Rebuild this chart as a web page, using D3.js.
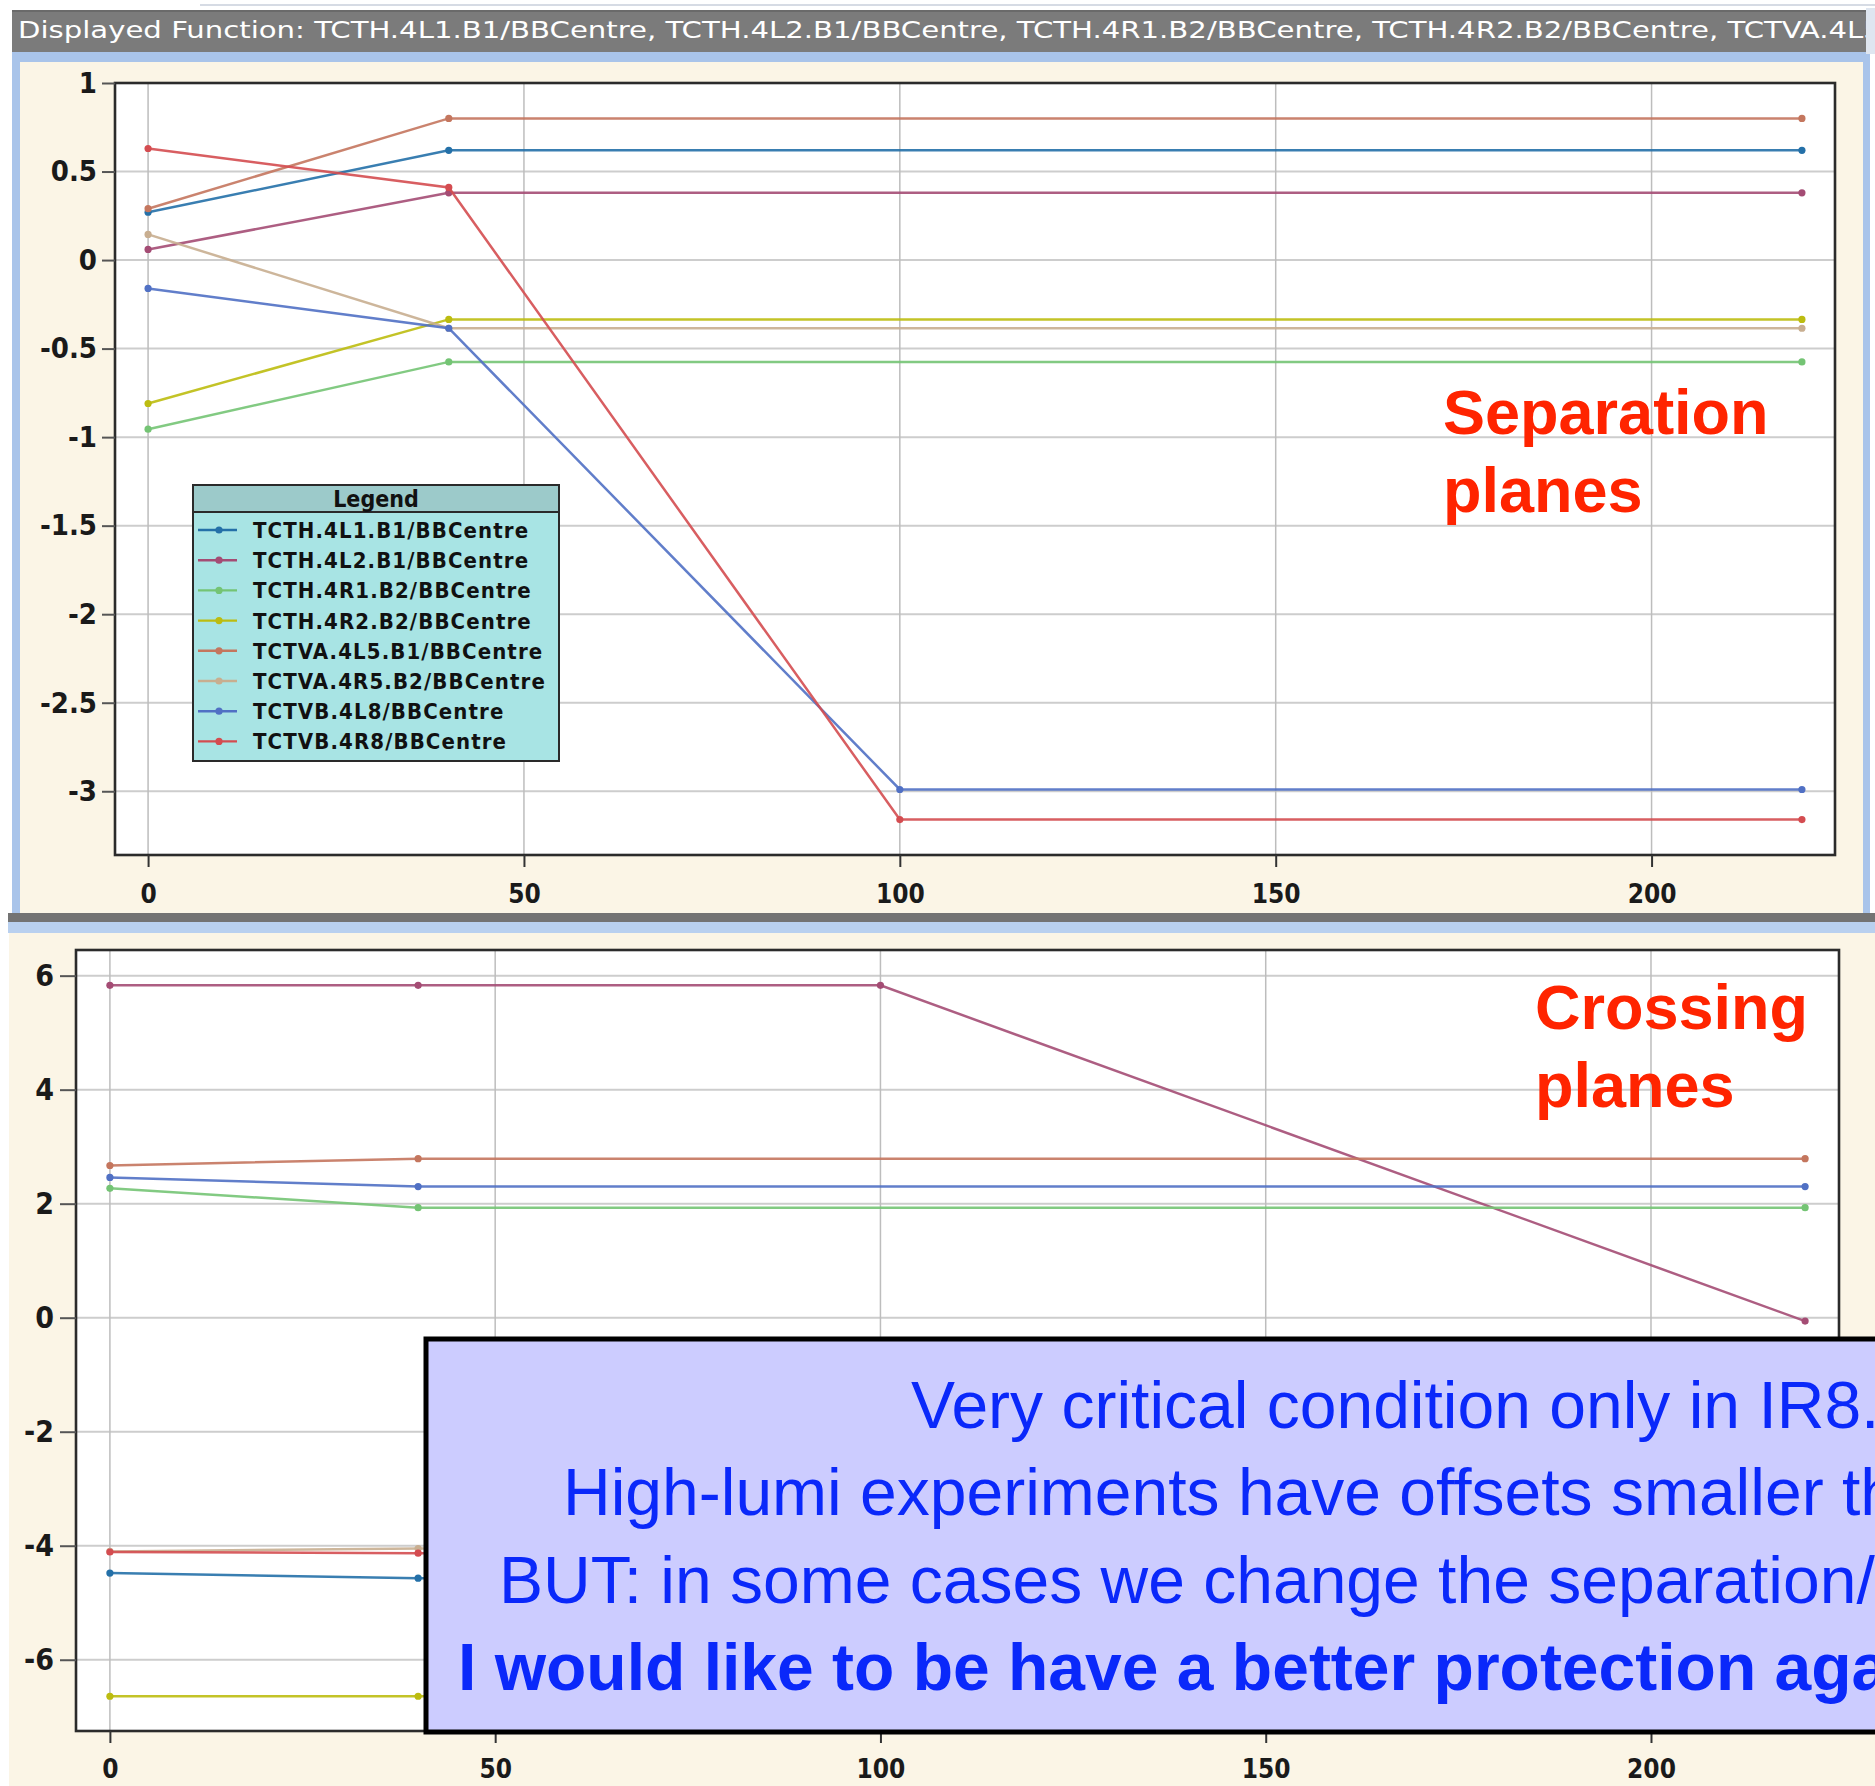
<!DOCTYPE html>
<html>
<head>
<meta charset="utf-8">
<script src="https://cdn.jsdelivr.net/npm/d3@7"></script>
<style>
  html, body { margin: 0; padding: 0; background: #ffffff; overflow: hidden; }
  svg { display: block; }
</style>
</head>
<body>
<svg id="chart" width="1875" height="1786"></svg>
<script>
// Collimator functions shown in both panels (legend order)
const collimators = [
  "TCTH.4L1.B1/BBCentre",
  "TCTH.4L2.B1/BBCentre",
  "TCTH.4R1.B2/BBCentre",
  "TCTH.4R2.B2/BBCentre",
  "TCTVA.4L5.B1/BBCentre",
  "TCTVA.4R5.B2/BBCentre",
  "TCTVB.4L8/BBCentre",
  "TCTVB.4R8/BBCentre"
];
const seriesColors = ["#2470a8", "#a44c74", "#74c474", "#bcbc10", "#c4765e", "#c8ae90", "#5070c4", "#d44c50"];

// Sample positions along the function (null = no sample for that collimator)
const positions = [0, 40, 100, 220];

// Beam-beam centre offsets in the separation planes
const separationValues = [
  [0.27, 0.62, null, 0.62],
  [0.06, 0.38, null, 0.38],
  [-0.955, -0.575, null, -0.575],
  [-0.81, -0.335, null, -0.335],
  [0.29, 0.80, null, 0.80],
  [0.145, -0.385, null, -0.385],
  [-0.16, -0.385, -2.99, -2.99],
  [0.63, 0.41, -3.16, -3.16]
];

// Beam-beam centre offsets in the crossing planes
const crossingValues = [
  [-4.48, -4.57, null, -4.57],
  [5.83, 5.83, 5.83, -0.06],
  [2.27, 1.93, null, 1.93],
  [-6.64, -6.64, null, -6.64],
  [2.67, 2.79, null, 2.79],
  [-4.10, -4.05, null, -4.05],
  [2.46, 2.30, null, 2.30],
  [-4.11, -4.13, null, -4.13]
];

const positionTicks = [0, 50, 100, 150, 200];
const separationTicks = [1, 0.5, 0, -0.5, -1, -1.5, -2, -2.5, -3];
const crossingTicks = [6, 4, 2, 0, -2, -4, -6];

const titleText = "Displayed Function: " + collimators.join(", ");
const separationLabel = ["Separation", "planes"];
const crossingLabel = ["Crossing", "planes"];
const noteLines = [
  "Very critical condition only in IR8.",
  "High-lumi experiments have offsets smaller than",
  "BUT: in some cases we change the separation/crossing",
  "I would like to be have a better protection against"
];

const condFont = '"DejaVu Sans Condensed", "DejaVu Sans", sans-serif';
const plainFont = '"DejaVu Sans", sans-serif';
const sansFont = '"Liberation Sans", Arial, Helvetica, sans-serif';

const svg = d3.select("#chart");

// ---------- window chrome ----------
svg.append("rect").attr("x", 0).attr("y", 0).attr("width", 1875).attr("height", 1786).attr("fill", "#ffffff");
svg.append("line").attr("x1", 200).attr("x2", 1875).attr("y1", 5).attr("y2", 5)
  .attr("stroke", "#d6dbe4").attr("stroke-width", 2);

// top frame
svg.append("rect").attr("x", 12).attr("y", 50).attr("width", 1858).attr("height", 875).attr("fill", "#a9c4ea");
svg.append("rect").attr("x", 20).attr("y", 62).attr("width", 1843).attr("height", 851).attr("fill", "#fbf5e6");
// separator between the two panels
svg.append("rect").attr("x", 8).attr("y", 913).attr("width", 1867).attr("height", 9).attr("fill", "#737373");
svg.append("rect").attr("x", 8).attr("y", 922).attr("width", 1867).attr("height", 11).attr("fill", "#b9d0ef");
// bottom frame
svg.append("rect").attr("x", 9).attr("y", 933).attr("width", 1866).attr("height", 853).attr("fill", "#fbf5e6");

// title bar
svg.append("rect").attr("x", 12).attr("y", 10).attr("width", 1863).attr("height", 42).attr("fill", "#7b7b7b");
svg.append("line").attr("x1", 12).attr("x2", 1875).attr("y1", 11).attr("y2", 11).attr("stroke", "#6a6a6a").attr("stroke-width", 2);
const title = svg.append("text")
  .attr("x", 18).attr("y", 38)
  .attr("font-family", plainFont)
  .attr("font-size", 23).attr("fill", "#ffffff")
  .text(titleText);
// the title runs out of the window after "TCTVA.4L": stretch it horizontally so it does
{
  const cut = titleText.indexOf("TCTVA.4L5") + 8;
  const w = title.node().getSubStringLength(0, cut);
  const sx = (1864 - 18) / w;
  title.attr("transform", `translate(18,0) scale(${sx},1) translate(-18,0)`);
}
// window edge on the right of the title bar
svg.append("rect").attr("x", 1866).attr("y", 8).attr("width", 9).attr("height", 46).attr("fill", "#dfe6f0");

// ---------- panels ----------
function drawPanel(cfg) {
  const g = svg.append("g");
  const x = d3.scaleLinear().domain(cfg.xDomain).range([cfg.left, cfg.right]);
  const y = d3.scaleLinear().domain(cfg.yDomain).range([cfg.bottom, cfg.top]);

  g.append("rect")
    .attr("x", cfg.left).attr("y", cfg.top)
    .attr("width", cfg.right - cfg.left).attr("height", cfg.bottom - cfg.top)
    .attr("fill", "#ffffff");

  // grid
  g.append("g").selectAll("line").data(cfg.yTicks).join("line")
    .attr("x1", cfg.left).attr("x2", cfg.right)
    .attr("y1", d => y(d)).attr("y2", d => y(d))
    .attr("stroke", "#cdcdcd").attr("stroke-width", 2);
  g.append("g").selectAll("line").data(positionTicks).join("line")
    .attr("x1", d => x(d)).attr("x2", d => x(d))
    .attr("y1", cfg.top).attr("y2", cfg.bottom)
    .attr("stroke", "#bdbdbd").attr("stroke-width", 1.5);

  // series
  const line = d3.line().x(d => x(d[0])).y(d => y(d[1]));
  cfg.values.forEach((vals, i) => {
    const pts = positions.map((p, j) => [p, vals[j]]).filter(d => d[1] !== null);
    g.append("path").datum(pts)
      .attr("d", line)
      .attr("fill", "none")
      .attr("stroke", seriesColors[i])
      .attr("stroke-width", 2.5)
      .attr("stroke-opacity", 0.9);
    g.append("g").selectAll("circle").data(pts).join("circle")
      .attr("cx", d => x(d[0])).attr("cy", d => y(d[1]))
      .attr("r", 3.6).attr("fill", seriesColors[i]);
  });

  // plot outline
  g.append("rect")
    .attr("x", cfg.left).attr("y", cfg.top)
    .attr("width", cfg.right - cfg.left).attr("height", cfg.bottom - cfg.top)
    .attr("fill", "none").attr("stroke", "#2b2b2b").attr("stroke-width", 2.6);

  // axes
  const xAxis = d3.axisBottom(x).tickValues(positionTicks).tickSize(12).tickPadding(cfg.xPad)
    .tickFormat(d => String(d));
  const xg = g.append("g").attr("transform", `translate(0,${cfg.bottom})`).call(xAxis);
  xg.select(".domain").remove();
  xg.selectAll(".tick line").attr("stroke", "#333").attr("stroke-width", 2);
  xg.selectAll(".tick text")
    .attr("font-family", condFont).attr("font-stretch", "condensed")
    .attr("font-weight", "bold").attr("font-size", 26).attr("fill", "#1a1a1a");

  const yAxis = d3.axisLeft(y).tickValues(cfg.yTicks).tickSize(cfg.yTickLen).tickPadding(cfg.yPad)
    .tickFormat(d => String(d));
  const yg = g.append("g").attr("transform", `translate(${cfg.left},0)`).call(yAxis);
  yg.select(".domain").remove();
  yg.selectAll(".tick line").attr("stroke", "#555").attr("stroke-width", 2);
  yg.selectAll(".tick text")
    .attr("font-family", condFont).attr("font-stretch", "condensed")
    .attr("font-weight", "bold").attr("font-size", cfg.yFont).attr("fill", "#1a1a1a");

  return { g, x, y };
}

const separationPanel = drawPanel({
  left: 115, right: 1835, top: 83, bottom: 855,
  xDomain: [-4.4, 224.4], yDomain: [-3.36, 1.0],
  yTicks: separationTicks, values: separationValues,
  xPad: 18, yPad: 5, yTickLen: 13, yFont: 29
});

const crossingPanel = drawPanel({
  left: 76, right: 1839, top: 950, bottom: 1731,
  xDomain: [-4.4, 224.4], yDomain: [-7.25, 6.45],
  yTicks: crossingTicks, values: crossingValues,
  xPad: 17, yPad: 6, yTickLen: 16, yFont: 30
});

// ---------- legend ----------
const legend = svg.append("g").attr("transform", "translate(193,485)");
legend.append("rect").attr("width", 366).attr("height", 276)
  .attr("fill", "#a8e4e4").attr("stroke", "#2a2a2a").attr("stroke-width", 2);
legend.append("rect").attr("width", 366).attr("height", 27)
  .attr("fill", "#9ccaca").attr("stroke", "#2a2a2a").attr("stroke-width", 2);
legend.append("text").attr("x", 183).attr("y", 22).attr("text-anchor", "middle")
  .attr("font-family", condFont).attr("font-stretch", "condensed")
  .attr("font-weight", "bold").attr("font-size", 23).attr("fill", "#111")
  .text("Legend");
const rows = legend.selectAll("g.row").data(collimators).join("g")
  .attr("class", "row")
  .attr("transform", (d, i) => `translate(0,${45 + i * 30.2})`);
rows.append("line").attr("x1", 5).attr("x2", 44).attr("y1", 0).attr("y2", 0)
  .attr("stroke", (d, i) => seriesColors[i]).attr("stroke-width", 2.4);
rows.append("circle").attr("cx", 26).attr("cy", 0).attr("r", 3.6)
  .attr("fill", (d, i) => seriesColors[i]);
rows.append("text").attr("x", 60).attr("y", 8)
  .attr("font-family", condFont).attr("font-stretch", "condensed")
  .attr("font-weight", "bold").attr("font-size", 22).attr("letter-spacing", 1.1)
  .attr("fill", "#111")
  .text(d => d);

// ---------- plane labels ----------
function planeLabel(lines, x0, y0) {
  svg.append("text")
    .attr("font-family", sansFont).attr("font-weight", "bold")
    .attr("font-size", 63).attr("fill", "#ff2400")
    .selectAll("tspan").data(lines).join("tspan")
    .attr("x", x0).attr("y", (d, i) => y0 + i * 77.5)
    .text(d => d);
}
planeLabel(separationLabel, 1443, 434);
planeLabel(crossingLabel, 1535, 1029);

// ---------- note box ----------
const note = svg.append("g");
note.append("rect").attr("x", 426).attr("y", 1339).attr("width", 1520).attr("height", 393)
  .attr("fill", "#ccccff").attr("stroke", "#000000").attr("stroke-width", 5);
const noteX = [911, 563, 499, 458];
const noteY = [1428, 1515, 1603, 1690];
note.selectAll("text").data(noteLines).join("text")
  .attr("x", (d, i) => noteX[i]).attr("y", (d, i) => noteY[i])
  .attr("font-family", sansFont)
  .attr("font-weight", (d, i) => i === 3 ? "bold" : "normal")
  .attr("font-size", 66).attr("fill", "#0a28fa")
  .text(d => d);
</script>
</body>
</html>
